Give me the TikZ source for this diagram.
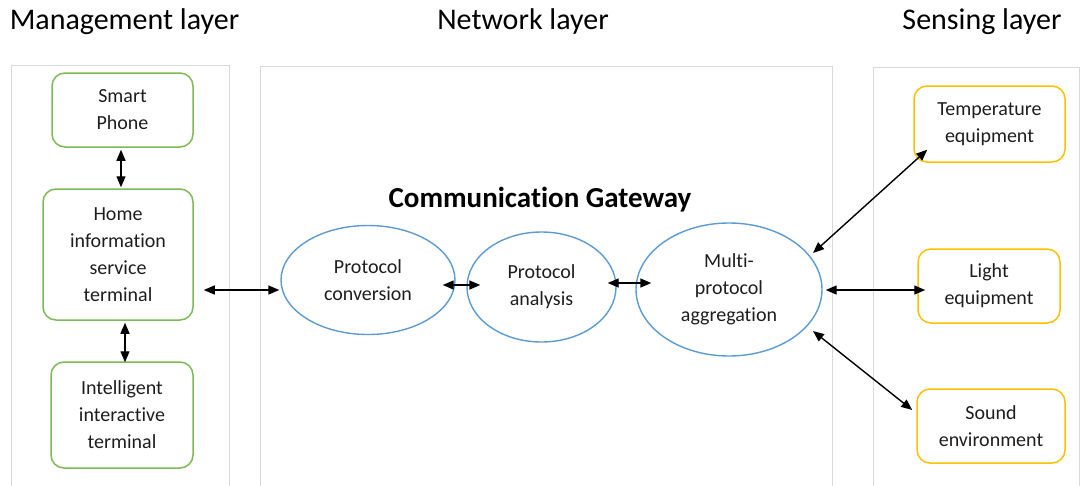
\documentclass[tikz,border=0pt]{standalone}
\usepackage{fontspec}
\setmainfont{Carlito}[Ligatures=NoCommon]
\usetikzlibrary{arrows.meta,shapes.geometric,calc}

\definecolor{panelgray}{RGB}{217,217,217}
\definecolor{mgmtgreen}{RGB}{125,185,85}
\definecolor{senseorange}{RGB}{255,192,0}
\definecolor{gwblue}{RGB}{91,155,213}
\definecolor{txt}{RGB}{30,30,30}

\tikzset{
  panel/.style={draw=panelgray, line width=1pt},
  layertitle/.style={anchor=base, inner sep=0pt, font=\fontsize{30}{36}\selectfont, text=black},
  gwtitle/.style={anchor=base, inner sep=0pt, font=\fontsize{29}{34}\selectfont\bfseries, text=black},
  box/.style={draw, rounded corners=13pt, line width=1.5pt, inner sep=0pt, align=center,
              font=\fontsize{20}{27}\selectfont, text=txt},
  mgmt/.style={box, draw=mgmtgreen},
  sense/.style={box, draw=senseorange},
  proto/.style={ellipse, draw=gwblue, line width=1.4pt, inner sep=0pt, align=center,
                font=\fontsize{20}{27}\selectfont, text=txt},
  link/.style={{Triangle[length=11pt,width=9pt]}-{Triangle[length=11pt,width=9pt]}, line width=1.4pt, black}
}

\begin{document}
\begin{tikzpicture}[x=1pt, y=-1pt]
  \useasboundingbox (0,0) rectangle (1082,485);

  % layer panels (open at the bottom)
  \draw[panel] (11,486) -- (11,65) -- (229,65) -- (229,486);
  \draw[panel] (260,486) -- (260,66) -- (832,66) -- (832,486);
  \draw[panel] (873,486) -- (873,67) -- (1079,67) -- (1079,486);

  % layer titles
  \node[layertitle] (tmgmt) at (124.5,29) {Management layer};
  \node[layertitle] (tnet)  at (523,29)   {Network layer};
  \node[layertitle] (tsens) at (982,29)   {Sensing layer};
  \node[gwtitle]    (tgw)   at (540,207)  {Communication Gateway};

  % management layer
  \node[mgmt, minimum width=141pt, minimum height=74pt]  (phone) at (122.5,110)  {Smart\\Phone};
  \node[mgmt, minimum width=150pt, minimum height=131pt] (home)  at (118,254.5)  {Home\\information\\service\\terminal};
  \node[mgmt, minimum width=142pt, minimum height=106pt] (intel) at (122,415)    {Intelligent\\interactive\\terminal};

  % network layer
  \node[proto, minimum width=174pt, minimum height=109pt] (conv)  at (368,280)   {Protocol\\conversion};
  \node[proto, minimum width=149pt, minimum height=110pt] (anal)  at (541.5,287) {Protocol\\analysis};
  \node[proto, minimum width=186pt, minimum height=133pt] (multi) at (729,289.5) {Multi-\\protocol\\aggregation};

  % sensing layer
  \node[sense, minimum width=151pt, minimum height=76pt] (temp)  at (989.5,124) {Temperature\\equipment};
  \node[sense, minimum width=142pt, minimum height=74pt] (light) at (989,286)   {Light\\equipment};
  \node[sense, minimum width=148pt, minimum height=74pt] (sound) at (991,426)   {Sound\\environment};

  % links
  \draw[link] ($(phone.south)+(-1.5,2)$) -- ($(home.north)+(3,-1)$);
  \draw[link] ($(home.south)+(7,2)$) -- ($(intel.north)+(3,1)$);
  \draw[link] ($(home.east)+(10,35.5)$) -- ($(conv.west)+(-1,10)$);
  \draw[link] ($(conv.east)+(-13,5)$) -- ($(anal.west)+(14,-2)$);
  \draw[link] ($(anal.east)+(-9,-4)$) -- ($(multi.west)+(16,-6.5)$);
  \draw[link] ($(multi.center)+(84,-36.5)$) -- ($(temp.south west)+(14,-13)$);
  \draw[link] ($(multi.east)+(3,0.5)$) -- ($(light.west)+(8,4)$);
  \draw[link] ($(multi.center)+(84,41.5)$) -- ($(sound.west)+(-4,-16)$);
\end{tikzpicture}
\end{document}
